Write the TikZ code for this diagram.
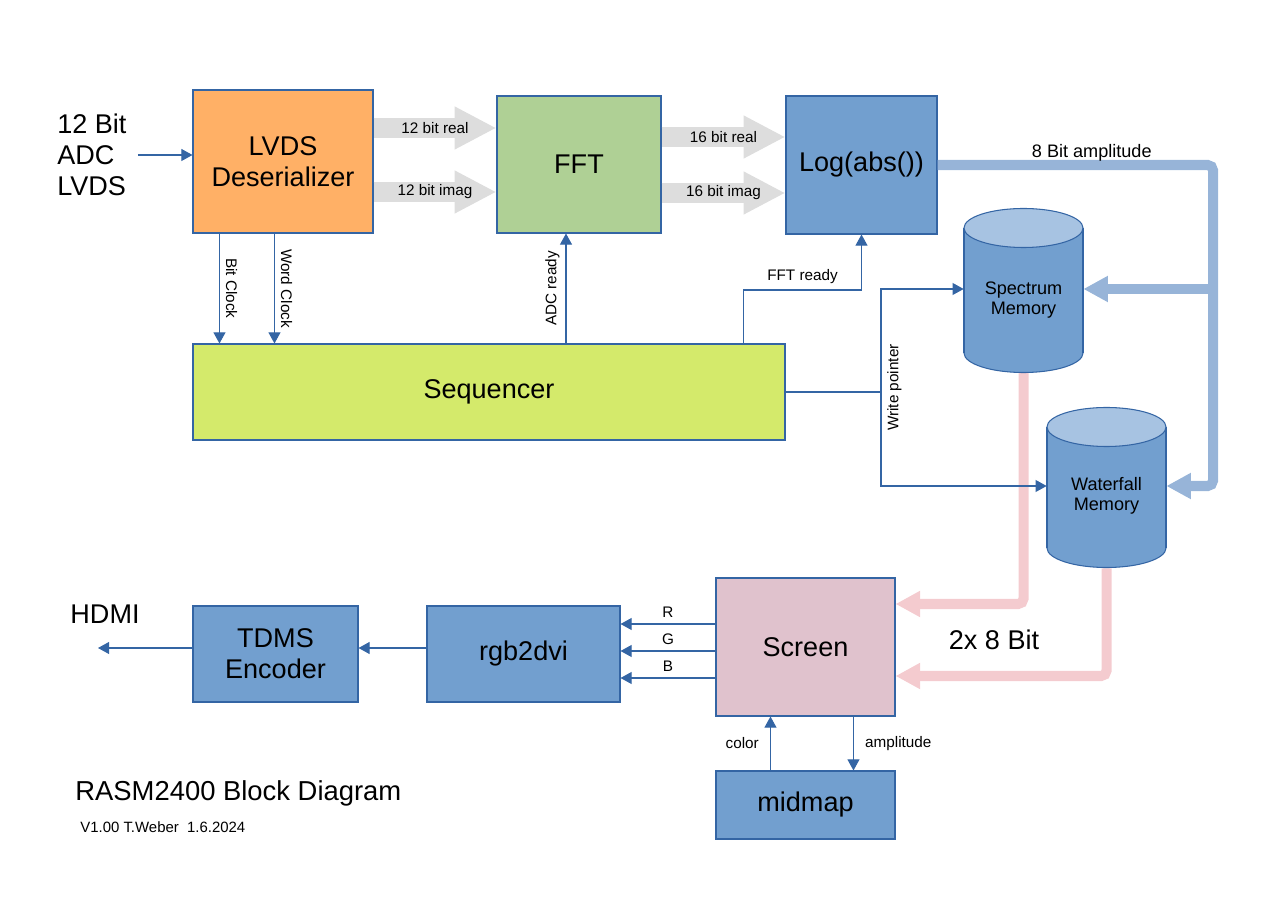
\documentclass[tikz,border=0pt]{standalone}
\usepackage{fontspec}
\setmainfont{Liberation Sans}
\usetikzlibrary{arrows.meta}
\definecolor{edgeblue}{HTML}{3465A4}
\definecolor{boxblue}{HTML}{729FCF}
\definecolor{toplight}{HTML}{A7C3E2}
\definecolor{lvdsorange}{HTML}{FFB066}
\definecolor{fftgreen}{HTML}{AFD095}
\definecolor{seqyellow}{HTML}{D4EA6B}
\definecolor{screenpink}{HTML}{E0C2CD}
\definecolor{busgray}{HTML}{DDDDDD}
\definecolor{busblue}{HTML}{97B4D8}
\definecolor{buspink}{HTML}{F4CBCF}

% cylinder: x left, x right, y of top centre, y of bottom centre
\newcommand\memcyl[4]{%
  \filldraw[fill=boxblue, draw=edgeblue, line width=0.6pt] ({(#1+#2)/2},#4) ellipse [x radius={(#2-#1)/2}, y radius=19.5];
  \fill[boxblue] (#1,#3) rectangle (#2,#4);
  \draw[edgeblue, line width=0.6pt] (#1,#3) -- (#1,#4) (#2,#3) -- (#2,#4);
  \filldraw[fill=toplight, draw=edgeblue, line width=0.6pt] ({(#1+#2)/2},#3) ellipse [x radius={(#2-#1)/2}, y radius=19.5];
}

\begin{document}
\begin{tikzpicture}[x=0.02cm, y=-0.02cm,
    big/.style={font=\fontsize{15.4}{17.6}\selectfont},
    mid/.style={font=\fontsize{10.3}{11.4}\selectfont},
    lbl/.style={font=\fontsize{8.7}{10}\selectfont},
    box/.style={draw=edgeblue, line width=0.6pt, big, align=center, inner sep=0},
    sig/.style={draw=edgeblue, line width=0.6pt, -{Triangle[length=6.3pt,width=6.8pt]}},
    fatgray/.style={draw=busgray, line width=11.3pt, -{Triangle[length=23.8pt,width=22.7pt]}},
    fatblue/.style={draw=busblue, line width=5.7pt, rounded corners=3pt, -{Triangle[length=14pt,width=14pt]}},
    fatpink/.style={draw=buspink, line width=5.7pt, rounded corners=3pt, -{Triangle[length=14pt,width=14pt]}}]
    \def\pxu{0.02cm}
    \useasboundingbox (0,0) rectangle (1285,908);

    % blocks
    \node[box, fill=lvdsorange, minimum width=180*\pxu, minimum height=143*\pxu] (lvds) at (283,161.5) {LVDS\\Deserializer};
    \node[box, fill=fftgreen, minimum width=164*\pxu, minimum height=137*\pxu] (fft) at (579,164.5) {FFT};
    \node[box, fill=boxblue, minimum width=151*\pxu, minimum height=138*\pxu] (logabs) at (861.5,165) {Log(abs())};
    \node[box, fill=seqyellow, minimum width=592*\pxu, minimum height=96*\pxu] (seq) at (489,392) {Sequencer};
    \node[box, fill=screenpink, minimum width=179*\pxu, minimum height=138*\pxu] (screen) at (805.5,647) {Screen};
    \node[box, fill=boxblue, minimum width=193*\pxu, minimum height=96*\pxu] (rgb) at (523.5,654) {rgb2dvi};
    \node[box, fill=boxblue, minimum width=165*\pxu, minimum height=96*\pxu] (tdms) at (275.5,654) {TDMS\\Encoder};
    \node[box, fill=boxblue, minimum width=179*\pxu, minimum height=68*\pxu] (midmap) at (805.5,805) {midmap};

    % memories
    \node[inner sep=0, minimum width=119*\pxu, minimum height=166*\pxu] (spec) at (1023.5,289) {};
    \node[inner sep=0, minimum width=119*\pxu, minimum height=164*\pxu] (wfall) at (1106.5,486) {};

    % pixel data to screen
    \draw[fatpink] (spec.south) |- ([yshift=43*\pxu]screen.east);
    \draw[fatpink] (wfall.south) |- ([yshift=-29*\pxu]screen.east);
    \node[big] (twox) at (994,640) {2x 8 Bit};

    \memcyl{964}{1083}{228}{353}
    \memcyl{1047}{1166}{427}{548}
    \node[mid, align=center] (spectxt) at (1023.5,300) {Spectrum\\Memory};
    \node[mid, align=center] (wfalltxt) at (1106.5,496) {Waterfall\\Memory};

    % data path
    \node[big, align=left, anchor=west, inner sep=0] (adcin) at (57,155) {12 Bit\\ADC\\LVDS};
    \draw[sig] ([xshift=11*\pxu]adcin.east) -- (lvds.west |- adcin.east);
    \draw[fatgray] (lvds.east |- 0,128) -- node[lbl] {12 bit real} (fft.west |- 0,128);
    \draw[fatgray] (lvds.east |- 0,192) -- node[lbl] {12 bit imag} (fft.west |- 0,192);
    \draw[fatgray] (fft.east |- 0,137) -- node[lbl] {16 bit real} (logabs.west |- 0,137);
    \draw[fatgray] (fft.east |- 0,193) -- node[lbl] {16 bit imag} (logabs.west |- 0,193);

    \coordinate (bus) at (1213,289);
    \draw[fatblue] (logabs.east) -- node[mid, above, pos=.56, inner sep=0pt, yshift=-1pt] {8 Bit amplitude} (logabs.east -| bus) |- (wfall.east);
    \draw[fatblue] (bus) -- (spec.east);

    % control signals
    \draw[sig] ([xshift=27*\pxu]lvds.south west) -- node[lbl, rotate=-90, anchor=south] {Bit Clock} ([xshift=27*\pxu]seq.north west);
    \draw[sig] ([xshift=82*\pxu]lvds.south west) -- node[lbl, rotate=-90, anchor=south] {Word Clock} ([xshift=82*\pxu]seq.north west);
    \coordinate (adcup) at ([xshift=-13*\pxu]fft.south);
    \draw[sig] (adcup |- seq.north) -- node[lbl, rotate=90, anchor=south] {ADC ready} (adcup);
    \coordinate (fftrdy) at ([xshift=-42*\pxu]seq.north east);
    \draw[sig] (fftrdy) -- (fftrdy |- 0,290) -- node[lbl, above] {FFT ready} (logabs.south |- 0,290) -- (logabs.south);

    \coordinate (wp) at (seq.east -| 881,0);
    \draw[edgeblue, line width=0.6pt] (seq.east) -- (wp);
    \draw[sig] (wp) |- (spec.west);
    \draw[sig] (wp) |- (wfall.west);
    \path (wp |- spec.west) -- node[lbl, rotate=90, anchor=north] {Write pointer} (wp |- wfall.west);

    % video out
    \foreach \c/\dy in {R/30, G/3, B/-24} {
        \path ([yshift=\dy*\pxu]rgb.east) coordinate (in\c);
        \draw[sig] (screen.west |- in\c) -- node[lbl, above] {\c} (in\c);
    }
    \draw[sig] ([yshift=6*\pxu]rgb.west) -- ([yshift=6*\pxu]tdms.east);
    \coordinate (hdmiout) at (98,648);
    \draw[sig] ([yshift=6*\pxu]tdms.west) -- (hdmiout);
    \node[big] (hdmi) at (105,614) {HDMI};

    \draw[sig] ([xshift=55*\pxu]midmap.north west) -- node[lbl, left, xshift=-3pt] {color} ([xshift=55*\pxu]screen.south west);
    \draw[sig] ([xshift=138*\pxu]screen.south west) -- node[lbl, right, xshift=3pt] {amplitude} ([xshift=138*\pxu]midmap.north west);

    % title
    \node[font=\fontsize{15.6}{18}\selectfont, anchor=west, inner sep=0] (title) at (75,793) {RASM2400 Block Diagram};
    \node[font=\fontsize{8.5}{10}\selectfont, anchor=west, inner sep=0] (version) at (80,827) {V1.00 T.Weber~~1.6.2024};
\end{tikzpicture}
\end{document}
